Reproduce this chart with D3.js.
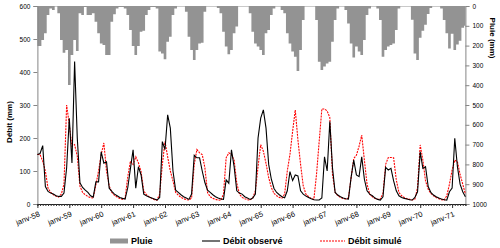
<!DOCTYPE html>
<html>
<head>
<meta charset="utf-8">
<script src="https://cdnjs.cloudflare.com/ajax/libs/d3/7.8.5/d3.min.js"></script>
<style>
  body { margin: 0; background: #fff; }
  svg { display: block; font-family: 'Liberation Sans', Arial, sans-serif; }
</style>
</head>
<body>
<svg id="chart" width="500" height="248"></svg>
<script>
// monthly values, janv-58 .. juin-71
const rain = [
  202,202,172,138,45,12,20,3,37,172,236,222,
  399,247,172,227,37,45,5,45,45,37,79,138,
  189,197,247,247,79,42,12,5,5,12,45,121,
  202,247,202,130,125,45,20,5,5,12,230,240,
  269,180,155,45,12,3,3,3,29,155,222,273,
  222,189,185,29,3,3,3,3,10,37,130,205,
  244,222,138,104,3,3,3,3,37,130,189,205,
  222,247,138,121,45,12,3,3,20,37,138,189,
  230,256,328,222,71,3,3,3,3,71,281,323,
  306,290,281,180,71,12,3,3,20,88,189,260,
  205,230,247,172,45,12,3,3,12,71,256,222,
  205,197,189,121,12,3,3,3,3,70,240,273,
  160,125,95,40,10,3,3,3,12,71,138,215,
  140,222,195,175,110,100
];
const observed = [
  150,153,177,53,38,33,30,25,23,23,33,110,
  260,124,432,200,64,50,42,35,25,21,67,67,
  158,124,128,48,38,30,25,20,17,15,50,108,
  164,48,113,88,30,25,21,18,15,12,20,189,
  165,270,230,100,42,35,28,22,18,14,30,148,
  140,140,100,65,42,35,28,22,18,15,14,73,
  63,164,113,40,33,30,22,18,14,18,30,200,
  260,285,230,120,75,47,35,28,22,19,40,98,
  71,88,85,40,30,24,20,16,13,12,12,18,
  143,100,250,110,35,27,22,18,16,15,80,133,
  88,83,143,75,40,30,25,18,14,12,22,111,
  103,108,70,40,25,20,17,15,13,12,20,37,
  158,108,113,53,35,27,22,18,15,13,12,37,
  48,199,113,60,37,22
];
const simulated = [
  150,150,130,100,48,35,28,24,21,30,60,300,
  240,175,180,145,54,35,28,23,19,18,58,100,
  150,185,100,55,35,26,21,17,14,18,83,130,
  120,143,125,98,40,28,22,17,13,12,30,120,
  189,143,100,70,35,27,20,16,13,12,18,120,
  165,155,150,110,35,22,17,14,12,11,30,140,
  155,150,133,63,30,20,16,13,12,18,40,113,
  180,160,123,80,50,32,25,20,18,30,100,150,
  220,285,194,120,55,30,22,17,14,90,190,288,
  288,282,262,90,35,25,20,17,15,18,80,138,
  148,175,209,133,60,30,22,17,14,15,32,120,
  141,141,140,73,35,25,20,16,14,12,15,50,
  179,133,70,45,32,25,20,16,13,12,25,60,
  103,133,128,90,60,30
];
const yearLabels = ['janv-58','janv-59','janv-60','janv-61','janv-62','janv-63','janv-64',
  'janv-65','janv-66','janv-67','janv-68','janv-69','janv-70','janv-71'];
const debitTicks = [0,100,200,300,400,500,600];
const pluieTicks = [0,100,200,300,400,500,600,700,800,900,1000];

let svg = d3.select('#chart');

const LEFT = 37.4, RIGHT = 465.4, TOP = 6, BOTTOM = 204;
const AXIS_GREY = '#868686';

let x = d3.scaleLinear().domain([0, rain.length - 1]).range([LEFT, RIGHT]);
let yQ = d3.scaleLinear().domain([0, 600]).range([BOTTOM, TOP]);
let yP = d3.scaleLinear().domain([0, 1000]).range([TOP, BOTTOM]);
const bw = x(1) - x(0);

svg.append('clipPath').attr('id', 'plot-clip')
  .append('rect')
  .attr('x', LEFT).attr('y', TOP)
  .attr('width', RIGHT - LEFT).attr('height', BOTTOM - TOP);

// rain columns hanging from the top, drawn as one stepped shape so no seams
// show between neighbouring months
let rainSteps = rain.map((d, i) => ({ pos: i - 0.5, value: d }));
rainSteps.push({ pos: rain.length - 0.5, value: rain[rain.length - 1] });

let rainArea = d3.area()
  .curve(d3.curveStepAfter)
  .x(d => x(d.pos))
  .y0(TOP)
  .y1(d => yP(d.value));

svg.append('path')
  .datum(rainSteps)
  .attr('clip-path', 'url(#plot-clip)')
  .attr('d', rainArea)
  .attr('fill', '#939393');

// axes
let leftAxis = svg.append('g')
  .attr('transform', `translate(${LEFT},0)`)
  .call(d3.axisLeft(yQ).tickValues(debitTicks).tickSize(4).tickPadding(3));

let rightAxis = svg.append('g')
  .attr('transform', `translate(${RIGHT},0)`)
  .call(d3.axisRight(yP).tickValues(pluieTicks).tickSize(4).tickPadding(3).tickFormat(d3.format('d')));

[leftAxis, rightAxis].forEach(g => {
  g.select('.domain').attr('stroke', AXIS_GREY);
  g.selectAll('.tick line').attr('stroke', AXIS_GREY);
  g.selectAll('.tick text').attr('font-size', 6.5).attr('fill', '#000')
    .attr('font-family', "'Liberation Sans', Arial, sans-serif");
});

// bottom axis: monthly minor ticks, yearly major ticks
let bottomAxis = svg.append('g')
  .attr('transform', `translate(0,${BOTTOM})`)
  .call(d3.axisBottom(x).tickValues(d3.range(0, rain.length)).tickSize(2).tickFormat(''));
bottomAxis.select('.domain').attr('stroke', '#222');
bottomAxis.selectAll('.tick line').attr('stroke', '#333');

let majors = svg.append('g')
  .attr('transform', `translate(0,${BOTTOM})`)
  .call(d3.axisBottom(x).tickValues(yearLabels.map((d, k) => k * 12)).tickSize(4).tickFormat(''));
majors.select('.domain').remove();
majors.selectAll('.tick line').attr('stroke', '#333');

svg.append('g')
  .selectAll('text')
  .data(yearLabels)
  .enter()
  .append('text')
  .attr('transform', (d, k) => `translate(${x(k * 12) + 3},${BOTTOM + 12}) rotate(-22)`)
  .attr('text-anchor', 'end')
  .attr('font-size', 7.6)
  .text(d => d);

// discharge lines
let line = d3.line()
  .x((d, i) => x(i))
  .y(d => yQ(d));

svg.append('path')
  .datum(simulated)
  .attr('d', line)
  .attr('fill', 'none')
  .attr('stroke', '#ff0000')
  .attr('stroke-width', 1.1)
  .attr('stroke-dasharray', '2,1');

svg.append('path')
  .datum(observed)
  .attr('d', line)
  .attr('fill', 'none')
  .attr('stroke', '#000')
  .attr('stroke-width', 1.1);

// axis titles
svg.append('text')
  .attr('transform', 'translate(12,122) rotate(-90)')
  .attr('text-anchor', 'middle')
  .attr('font-size', 8)
  .attr('font-weight', 'bold')
  .text('Débit (mm)');

svg.append('text')
  .attr('transform', 'translate(490,38) rotate(90)')
  .attr('text-anchor', 'middle')
  .attr('font-size', 8)
  .attr('font-weight', 'bold')
  .text('Pluie (mm)');

// legend
const LEG_Y = 241;
let legend = svg.append('g').attr('font-size', 9).attr('font-weight', 'bold');

legend.append('rect')
  .attr('x', 110).attr('y', LEG_Y - 2.5)
  .attr('width', 18).attr('height', 5)
  .attr('fill', '#939393');
legend.append('text').attr('x', 131).attr('y', LEG_Y + 3).text('Pluie');

legend.append('line')
  .attr('x1', 202).attr('x2', 220).attr('y1', LEG_Y).attr('y2', LEG_Y)
  .attr('stroke', '#000').attr('stroke-width', 1.1);
legend.append('text').attr('x', 223).attr('y', LEG_Y + 3).text('Débit observé');

legend.append('line')
  .attr('x1', 320).attr('x2', 345).attr('y1', LEG_Y).attr('y2', LEG_Y)
  .attr('stroke', '#ff0000').attr('stroke-width', 1.1).attr('stroke-dasharray', '2,1');
legend.append('text').attr('x', 348).attr('y', LEG_Y + 3).text('Débit simulé');
</script>
</body>
</html>
